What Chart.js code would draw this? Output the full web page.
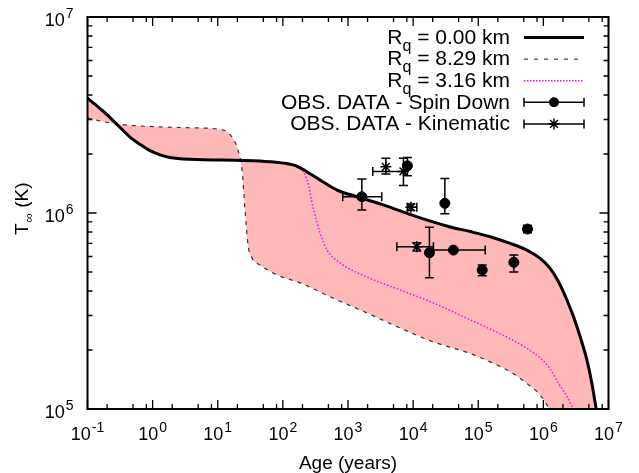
<!DOCTYPE html>
<html>
<head>
<meta charset="utf-8">
<script src="https://cdn.jsdelivr.net/npm/chart.js@4.4.1/dist/chart.umd.min.js"></script>
<style>
  html, body { margin: 0; padding: 0; background: #fff; }
  #wrap { width: 639px; height: 473px; position: relative; }
</style>
</head>
<body>
<div id="wrap"><canvas id="myChart"></canvas></div>
<script>
// Cooling curves: age (years) vs surface temperature T_inf (K)

// R_q = 0.00 km (solid)
const ageR000 = [0.1, 0.121, 0.156, 0.207, 0.264, 0.339, 0.45, 0.64, 0.912, 1.30, 1.85, 3.75, 44.7, 144, 184, 236, 415, 681, 1380, 3460, 11500, 37100, 75200, 1.52e5, 3.09e5, 5.58e5, 8.93e5, 1.27e6, 1.71e6, 2.30e6, 2.90e6, 3.67e6, 4.66e6, 5.56e6, 6.47e6];
const tempR000 = [3.86e6, 3.66e6, 3.41e6, 3.14e6, 2.90e6, 2.67e6, 2.44e6, 2.24e6, 2.08e6, 1.98e6, 1.92e6, 1.88e6, 1.84e6, 1.76e6, 1.70e6, 1.62e6, 1.44e6, 1.31e6, 1.21e6, 1.10e6, 9.55e5, 8.49e5, 8.04e5, 7.57e5, 7.00e5, 6.47e5, 5.87e5, 5.22e5, 4.46e5, 3.60e5, 2.96e5, 2.34e5, 1.78e5, 1.35e5, 1.0e5];

// R_q = 8.29 km (dashed) - last two points run on below the plot floor
const ageR829 = [0.1, 0.222, 0.405, 1.30, 4.18, 12.1, 16.6, 20.5, 23.6, 26.2, 29.2, 33.6, 44.7, 81.5, 184, 590, 1960, 6310, 20300, 75200, 1.52e5, 3.09e5, 5.58e5, 8.93e5, 1.13e6, 1.23e6, 1.6e6, 6.7e6];
const tempR829 = [3.05e6, 2.88e6, 2.81e6, 2.75e6, 2.72e6, 2.65e6, 2.44e6, 2.09e6, 1.66e6, 1.04e6, 6.87e5, 5.89e5, 5.43e5, 4.83e5, 4.40e5, 3.68e5, 3.09e5, 2.59e5, 2.20e5, 1.92e5, 1.74e5, 1.55e5, 1.35e5, 1.18e5, 1.05e5, 1.0e5, 8.2e4, 4.0e4];

// R_q = 3.16 km (magenta dotted)
const ageR316 = [0.1, 0.121, 0.156, 0.207, 0.264, 0.339, 0.45, 0.64, 0.912, 1.30, 1.85, 3.75, 44.7, 144, 184, 236, 291, 372, 478, 757, 1960, 6310, 20300, 75200, 1.52e5, 3.09e5, 5.58e5, 8.93e5, 1.27e6, 1.71e6, 2.30e6, 2.90e6];
const tempR316 = [3.86e6, 3.66e6, 3.41e6, 3.14e6, 2.90e6, 2.67e6, 2.44e6, 2.24e6, 2.08e6, 1.98e6, 1.92e6, 1.88e6, 1.84e6, 1.76e6, 1.70e6, 1.47e6, 1.07e6, 7.91e5, 6.47e5, 5.56e5, 4.71e5, 4.05e5, 3.48e5, 2.85e5, 2.56e5, 2.28e5, 2.04e5, 1.82e5, 1.60e5, 1.35e5, 1.16e5, 1.0e5];

// observed data - spin down ages (null = no bar)
const sdAge    = [1630, 8170, 30700, 17800, 41600, 1.15e5, 3.52e5, 5.7e5];
const sdTemp   = [1.21e6, 1.74e6, 1.12e6, 6.27e5, 6.47e5, 5.12e5, 5.6e5, 8.28e5];
const sdAgeLo  = [830, null, null, null, 20300, null, null, 5.0e5];
const sdAgeHi  = [3300, null, null, null, 1.28e5, null, null, 6.5e5];
const sdTempLo = [1.035e6, 1.55e6, 0.99e6, 4.68e5, null, 4.78e5, 5.0e5, 8.0e5];
const sdTempHi = [1.49e6, 1.92e6, 1.50e6, 8.45e5, null, 5.43e5, 6.1e5, 8.57e5];

// observed data - kinematic ages
const kinAge    = [3810, 7100, 9230, 11400];
const kinTemp   = [1.72e6, 1.63e6, 1.07e6, 6.73e5];
const kinAgeLo  = [null, 2400, 8170, 5620];
const kinAgeHi  = [null, 7530, 11400, 20500];
const kinTempLo = [1.58e6, 1.38e6, 1.03e6, 6.4e5];
const kinTempHi = [1.90e6, 1.90e6, 1.11e6, 7.05e5];

// axis ticks
const xMajorExp = [-1, 0, 1, 2, 3, 4, 5, 6, 7];
const xMinorMul = [2, 5, 8];
const yMajorExp = [5, 6, 7];
const yMinorMul = [2, 3, 4, 5, 6, 7, 8, 9];

const legendLabels = ['0.00 km', '8.29 km', '3.16 km', 'OBS. DATA - Spin Down', 'OBS. DATA - Kinematic'];

const FONT = "'Liberation Sans', Arial, sans-serif";
const PINK = '#ffb8b8';

const toXY = (xs, ys) => xs.map((v, i) => ({x: v, y: ys[i]}));

function drawErrors(ctx, sx, sy, ages, temps, aLo, aHi, tLo, tHi) {
    const cap = 4.5;
    ctx.beginPath();
    ages.forEach((a, i) => {
        const px = sx.getPixelForValue(a), py = sy.getPixelForValue(temps[i]);
        if (aLo[i] != null) {
            const x1 = sx.getPixelForValue(aLo[i]), x2 = sx.getPixelForValue(aHi[i]);
            ctx.moveTo(x1, py); ctx.lineTo(x2, py);
            ctx.moveTo(x1, py - cap); ctx.lineTo(x1, py + cap);
            ctx.moveTo(x2, py - cap); ctx.lineTo(x2, py + cap);
        }
        if (tLo[i] != null) {
            const y1 = sy.getPixelForValue(tLo[i]), y2 = sy.getPixelForValue(tHi[i]);
            ctx.moveTo(px, y1); ctx.lineTo(px, y2);
            ctx.moveTo(px - cap, y1); ctx.lineTo(px + cap, y1);
            ctx.moveTo(px - cap, y2); ctx.lineTo(px + cap, y2);
        }
    });
    ctx.stroke();
}

// "10" with raised exponent
function powLabel(ctx, x, y, exp, align) {
    ctx.font = '18px ' + FONT;
    const w1 = ctx.measureText('10').width;
    ctx.font = '14px ' + FONT;
    const w2 = ctx.measureText(exp).width;
    const total = w1 + 1 + w2;
    let start = align === 'right' ? x - total : x - total / 2;
    ctx.font = '18px ' + FONT;
    ctx.fillText('10', start, y);
    ctx.font = '14px ' + FONT;
    ctx.fillText(exp, start + w1 + 1, y - 8);
}

const errorBarPlugin = {
    id: 'errorBars',
    afterDatasetsDraw(chart) {
        const {ctx, scales: {x, y}} = chart;
        ctx.save();
        ctx.strokeStyle = '#000';
        ctx.lineWidth = 1.5;
        drawErrors(ctx, x, y, sdAge, sdTemp, sdAgeLo, sdAgeHi, sdTempLo, sdTempHi);
        drawErrors(ctx, x, y, kinAge, kinTemp, kinAgeLo, kinAgeHi, kinTempLo, kinTempHi);
        ctx.restore();
    }
};

const framePlugin = {
    id: 'gnuFrame',
    afterDraw(chart) {
        const {ctx, chartArea: a, scales: {x, y}} = chart;
        ctx.save();
        ctx.strokeStyle = '#000';
        ctx.fillStyle = '#000';

        // tick marks on all four sides, pointing inward
        ctx.lineWidth = 1.3;
        ctx.beginPath();
        const vt = (px, len) => {
            ctx.moveTo(px, a.bottom); ctx.lineTo(px, a.bottom - len);
            ctx.moveTo(px, a.top); ctx.lineTo(px, a.top + len);
        };
        const ht = (py, len) => {
            ctx.moveTo(a.left, py); ctx.lineTo(a.left + len, py);
            ctx.moveTo(a.right, py); ctx.lineTo(a.right - len, py);
        };
        xMajorExp.forEach((e, i) => {
            vt(x.getPixelForValue(10 ** e), 9);
            if (i < xMajorExp.length - 1) xMinorMul.forEach(m => vt(x.getPixelForValue(m * 10 ** e), 5));
        });
        yMajorExp.forEach((e, i) => {
            ht(y.getPixelForValue(10 ** e), 9);
            if (i < yMajorExp.length - 1) yMinorMul.forEach(m => ht(y.getPixelForValue(m * 10 ** e), 5));
        });
        ctx.stroke();

        ctx.lineWidth = 2;
        ctx.strokeRect(a.left, a.top, a.right - a.left, a.bottom - a.top);

        // tick labels
        ctx.textBaseline = 'alphabetic';
        ctx.textAlign = 'left';
        xMajorExp.forEach(e => powLabel(ctx, x.getPixelForValue(10 ** e), a.bottom + 31, String(e), 'center'));
        yMajorExp.forEach(e => powLabel(ctx, a.left - 14, y.getPixelForValue(10 ** e) + 9, String(e), 'right'));

        // axis titles
        ctx.font = '19px ' + FONT;
        ctx.textAlign = 'center';
        ctx.fillText('Age (years)', (a.left + a.right) / 2, 469);

        ctx.save();
        ctx.translate(28, 235);
        ctx.rotate(-Math.PI / 2);
        ctx.textAlign = 'left';
        ctx.font = '19px ' + FONT;
        ctx.fillText('T', 0, 0);
        let w = ctx.measureText('T').width;
        ctx.font = '13px ' + FONT;
        ctx.fillText('\u221E', w + 1, 5);
        w += 1 + ctx.measureText('\u221E').width;
        ctx.font = '19px ' + FONT;
        ctx.fillText(' (K)', w, 0);
        ctx.restore();

        // legend
        const textRight = 510, s1 = 524, s2 = 584, sm = 554;
        legendLabels.forEach((lab, i) => {
            const ry = 37.5 + i * 21.6;
            ctx.textAlign = 'right';
            ctx.font = '21px ' + FONT;
            ctx.fillStyle = '#000';
            if (i < 3) {
                const tail = ' = ' + lab;
                ctx.fillText(tail, textRight, ry + 6);
                const wt = ctx.measureText(tail).width;
                ctx.font = '16px ' + FONT;
                const wq = ctx.measureText('q').width;
                ctx.fillText('q', textRight - wt, ry + 13);
                ctx.font = '21px ' + FONT;
                ctx.fillText('R', textRight - wt - wq, ry + 6);
            } else {
                ctx.fillText(lab, textRight, ry + 6.5);
            }
            ctx.beginPath();
            ctx.setLineDash([]);
            if (i === 0) {
                ctx.lineWidth = 3; ctx.strokeStyle = '#000';
                ctx.moveTo(s1, ry); ctx.lineTo(s2, ry); ctx.stroke();
            } else if (i === 1) {
                ctx.lineWidth = 1.2; ctx.strokeStyle = '#444'; ctx.setLineDash([4, 6]);
                ctx.moveTo(s1, ry); ctx.lineTo(s2, ry); ctx.stroke();
            } else if (i === 2) {
                ctx.lineWidth = 1.5; ctx.strokeStyle = '#ff00ff'; ctx.setLineDash([1.5, 1.5]);
                ctx.moveTo(s1, ry); ctx.lineTo(s2, ry); ctx.stroke();
            } else {
                ctx.lineWidth = 1.5; ctx.strokeStyle = '#000';
                ctx.moveTo(s1, ry); ctx.lineTo(s2, ry);
                ctx.moveTo(s1, ry - 4.5); ctx.lineTo(s1, ry + 4.5);
                ctx.moveTo(s2, ry - 4.5); ctx.lineTo(s2, ry + 4.5);
                ctx.stroke();
                if (i === 3) {
                    ctx.beginPath(); ctx.arc(sm, ry, 5, 0, Math.PI * 2); ctx.fill();
                } else {
                    ctx.beginPath();
                    for (let k = 0; k < 4; k++) {
                        const ang = k * Math.PI / 4;
                        ctx.moveTo(sm - 5.5 * Math.cos(ang), ry - 5.5 * Math.sin(ang));
                        ctx.lineTo(sm + 5.5 * Math.cos(ang), ry + 5.5 * Math.sin(ang));
                    }
                    ctx.stroke();
                }
            }
        });
        ctx.setLineDash([]);
        ctx.restore();
    }
};

const ctx = document.getElementById('myChart');
new Chart(ctx, {
    type: 'scatter',
    data: {
        datasets: [
            {
                label: 'Rq = 0.00 km',
                data: toXY(ageR000, tempR000),
                showLine: true,
                borderColor: '#000',
                borderWidth: 3,
                pointRadius: 0,
                cubicInterpolationMode: 'monotone',
                fill: 1,
                backgroundColor: PINK
            },
            {
                label: 'Rq = 8.29 km',
                data: toXY(ageR829, tempR829),
                showLine: true,
                borderColor: '#333',
                borderWidth: 1.2,
                borderDash: [4, 5],
                pointRadius: 0,
                cubicInterpolationMode: 'monotone',
                fill: false
            },
            {
                label: 'Rq = 3.16 km',
                data: toXY(ageR316, tempR316),
                showLine: true,
                borderColor: '#ff00ff',
                borderWidth: 1.5,
                borderDash: [1.5, 2],
                pointRadius: 0,
                cubicInterpolationMode: 'monotone',
                fill: false
            },
            {
                label: 'OBS. DATA - Spin Down',
                data: toXY(sdAge, sdTemp),
                pointStyle: 'circle',
                pointRadius: 5,
                backgroundColor: '#000',
                borderColor: '#000'
            },
            {
                label: 'OBS. DATA - Kinematic',
                data: toXY(kinAge, kinTemp),
                pointStyle: 'star',
                pointRadius: 5.5,
                borderWidth: 1.5,
                backgroundColor: '#000',
                borderColor: '#000'
            }
        ]
    },
    options: {
        responsive: true,
        maintainAspectRatio: false,
        animation: false,
        events: [],
        layout: { padding: { top: 17, right: 30.5, left: 0, bottom: 0 } },
        scales: {
            x: {
                type: 'logarithmic', min: 0.1, max: 1e7,
                ticks: { display: false },
                grid: { display: false, drawTicks: false },
                border: { display: false },
                afterFit: s => { s.height = 64; }
            },
            y: {
                type: 'logarithmic', min: 1e5, max: 1e7,
                ticks: { display: false },
                grid: { display: false, drawTicks: false },
                border: { display: false },
                afterFit: s => { s.width = 87.5; }
            }
        },
        plugins: {
            legend: { display: false },
            tooltip: { enabled: false },
            filler: { drawTime: 'beforeDatasetsDraw' }
        }
    },
    plugins: [errorBarPlugin, framePlugin]
});
</script>
</body>
</html>
